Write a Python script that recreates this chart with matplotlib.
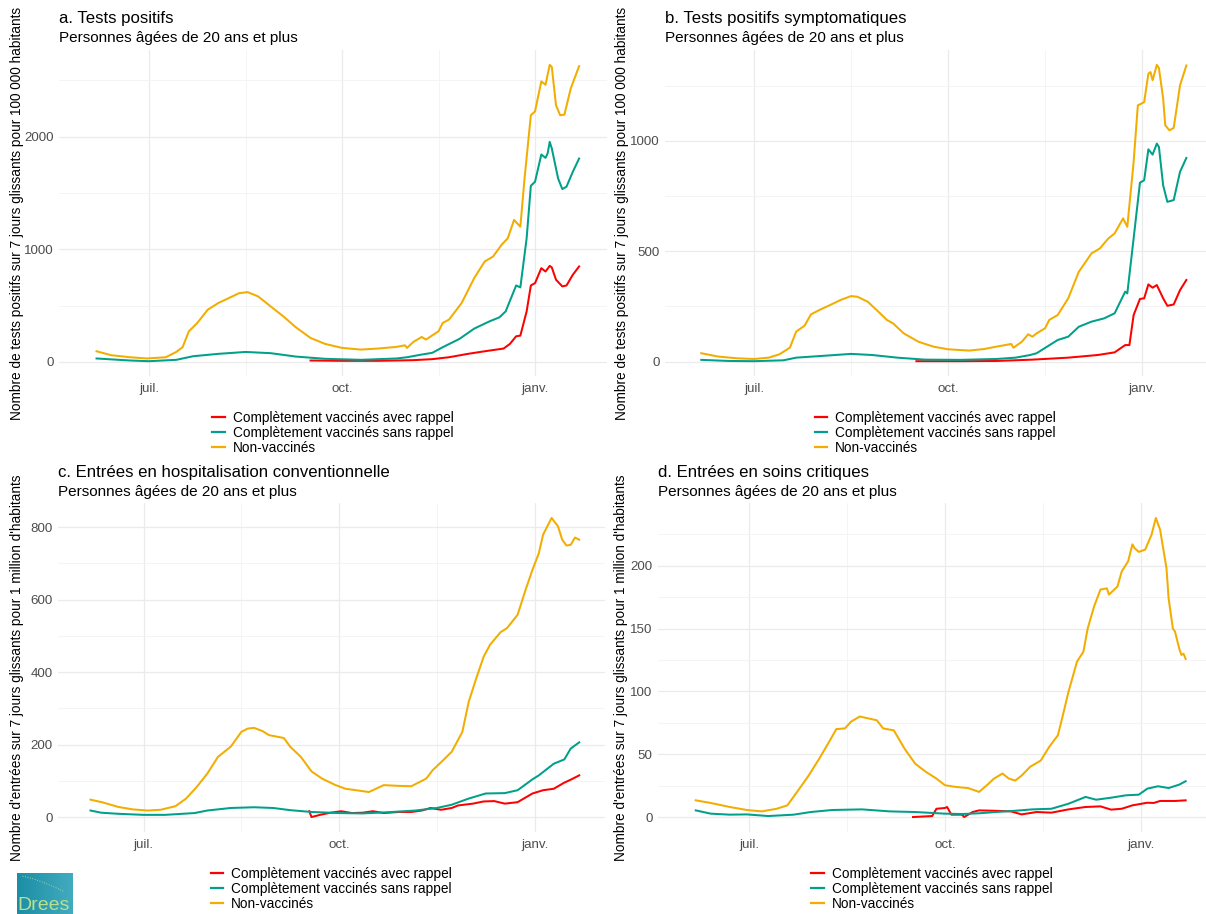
import numpy as np
import pandas as pd
import matplotlib
matplotlib.use("Agg")
import matplotlib.pyplot as plt
from matplotlib.lines import Line2D
from matplotlib.colors import LinearSegmentedColormap

plt.rcParams["font.family"] = ["Liberation Sans", "DejaVu Sans"]

# Days are counted from 1 July 2021; values are 7-day rolling rates.
BASE = pd.Timestamp("2021-07-01")

# a. Tests positifs (per 100 000)
a_rappel_days = [77, 92, 109, 126, 135, 143, 152, 160, 169, 172, 175, 177, 180, 182, 184, 187, 189, 191, 192, 194, 197, 199, 202, 205]
a_rappel = [12, 9, 9, 15, 24, 41, 71, 94, 118, 159, 227, 233, 448, 678, 699, 832, 802, 852, 838, 729, 670, 678, 773, 847]
a_sans_days = [-25, -9, 0, 13, 21, 33, 46, 58, 70, 84, 101, 118, 123, 130, 135, 140, 148, 155, 162, 167,
               170, 175, 177, 180, 182, 184, 187, 189, 190, 191, 192, 195, 197, 199, 202, 205]
a_sans = [30, 12, 6, 18, 50, 71, 88, 77, 47, 27, 18, 30, 41, 65, 80, 130, 204, 295, 357, 395,
          448, 678, 661, 1097, 1563, 1599, 1841, 1811, 1850, 1953, 1894, 1628, 1534, 1555, 1687, 1805]
a_nonvac_days = [-25, -18, -9, -1, 8, 13, 16, 19, 23, 28, 33, 38, 43, 47, 52, 57, 64, 70, 77, 84,
                 92, 101, 109, 118, 122, 123, 126, 130, 132, 138, 140, 143, 149, 155, 160, 164, 168, 171, 174, 177,
                 179, 182, 184, 187, 189, 191, 192, 194, 196, 198, 201, 205]
a_nonvac = [94, 59, 41, 30, 41, 88, 130, 271, 345, 463, 522, 566, 610, 619, 581, 507, 404, 307, 212, 159,
            124, 109, 118, 133, 147, 124, 177, 221, 198, 271, 345, 375, 522, 743, 891, 935, 1038, 1097, 1260, 1200,
            1628, 2189, 2224, 2490, 2460, 2637, 2617, 2277, 2189, 2195, 2425, 2625]

# b. Tests positifs symptomatiques (per 100 000)
b_rappel_days = [77, 98, 115, 132, 149, 163, 171, 176, 178, 180, 183, 185, 187, 189, 191, 194, 196, 199, 202, 205]
b_rappel = [2, 2, 3, 9, 18, 30, 42, 75, 75, 211, 284, 287, 350, 335, 347, 287, 253, 259, 324, 370]
b_sans_days = [-25, -12, 0, 14, 20, 34, 46, 56, 68, 81, 98, 115, 124, 131, 134, 139, 144, 149, 154, 160,
               166, 171, 176, 177, 180, 183, 185, 187, 189, 191, 192, 194, 196, 199, 202, 205]
b_sans = [8, 3, 2, 6, 18, 27, 35, 30, 18, 9, 8, 12, 18, 30, 38, 68, 98, 113, 158, 181,
          196, 219, 317, 309, 558, 811, 822, 962, 938, 988, 973, 799, 724, 732, 860, 923]
b_nonvac_days = [-25, -17, -8, 0, 7, 12, 17, 20, 24, 27, 31, 36, 41, 46, 49, 54, 59, 63, 66, 71,
                 78, 85, 92, 102, 109, 115, 122, 123, 127, 130, 132, 134, 138, 140, 144, 149, 154, 160, 164, 168,
                 171, 175, 177, 180, 182, 185, 187, 188, 189, 191, 192, 194, 195, 197, 199, 202, 205]
b_nonvac = [38, 23, 15, 12, 18, 33, 63, 136, 163, 214, 234, 256, 279, 297, 294, 271, 226, 189, 173, 128,
            90, 68, 56, 50, 57, 68, 80, 63, 90, 124, 113, 128, 151, 189, 211, 287, 407, 490, 513, 558,
            581, 649, 611, 905, 1161, 1176, 1305, 1312, 1275, 1345, 1330, 1192, 1071, 1048, 1059, 1252, 1342]

# c. Entrées en hospitalisation conventionnelle (per million)
c_rappel_days = [78, 79, 83, 88, 93, 98, 103, 108, 113, 120, 126, 131, 135, 140, 145, 148, 155, 160, 165, 170,
                 176, 183, 188, 193, 198, 201, 205]
c_rappel = [16, 0, 6, 12, 16, 11, 12, 16, 11, 14, 14, 18, 25, 20, 25, 32, 37, 43, 44, 37,
            41, 65, 74, 78, 95, 103, 115]
c_sans_days = [-25, -20, -12, 0, 10, 24, 30, 41, 52, 61, 69, 79, 92, 103, 114, 128, 138, 145, 153, 161,
               170, 176, 183, 186, 193, 198, 201, 205]
c_sans = [18, 12, 9, 6, 6, 11, 18, 25, 27, 25, 19, 14, 11, 10, 13, 18, 25, 34, 51, 65,
          66, 74, 104, 115, 147, 159, 189, 206]
c_nonvac_days = [-25, -19, -12, -5, 2, 8, 15, 20, 25, 30, 35, 41, 46, 49, 52, 56, 59, 66, 69, 74,
                 79, 84, 90, 95, 100, 106, 113, 120, 126, 130, 133, 136, 141, 145, 150, 153, 156, 160, 163, 168,
                 171, 176, 180, 183, 186, 188, 192, 195, 197, 199, 201, 203, 205]
c_nonvac = [48, 40, 28, 21, 18, 20, 30, 51, 83, 120, 166, 194, 235, 244, 246, 237, 226, 218, 194, 166,
            126, 106, 89, 78, 74, 69, 88, 86, 85, 97, 106, 129, 157, 180, 235, 318, 373, 442, 475, 510,
            521, 558, 631, 682, 728, 779, 825, 802, 765, 749, 751, 771, 765]

# d. Entrées en soins critiques (per million)
d_rappel_days = [77, 86, 88, 92, 93, 95, 100, 101, 105, 108, 115, 123, 128, 135, 142, 150, 158, 165, 170, 175,
                 180, 187, 190, 193, 200, 205]
d_rappel = [0, 0.8, 6.6, 7.2, 8, 1.9, 1.9, 0, 4, 5.3, 5, 4.5, 2.1, 4, 3.5, 6.1, 8, 8.5, 5.9, 6.6,
            9.3, 11.4, 11.2, 12.8, 12.8, 13.3]
d_sans_days = [-25, -18, -9, -1, 9, 21, 29, 39, 53, 66, 78, 92, 100, 108, 116, 125, 133, 142, 150, 158,
               163, 170, 177, 183, 187, 192, 197, 202, 205]
d_sans = [5.3, 2.7, 1.9, 2.1, 0.8, 1.9, 4, 5.6, 6.1, 4.5, 4, 2.7, 2.4, 3, 4, 5, 6.1, 6.6, 10.6, 16,
          13.8, 15.4, 17.3, 17.8, 22.6, 24.5, 23.1, 25.8, 28.5]
d_nonvac_days = [-25, -18, -9, -1, 6, 13, 18, 23, 28, 33, 38, 41, 45, 48, 52, 56, 60, 63, 68, 73,
                 78, 83, 88, 92, 97, 103, 108, 112, 115, 119, 122, 125, 128, 132, 137, 141, 145, 147, 150, 154,
                 157, 159, 162, 165, 168, 169, 173, 175, 178, 180, 181, 183, 186, 189, 191, 193, 196, 197, 199, 200,
                 202, 203, 204, 205]
d_nonvac = [13.3, 11.2, 8, 5.6, 4.5, 6.6, 9.3, 21, 33, 46.5, 61, 70, 70.5, 76, 80, 78.5, 77, 70.5, 69, 54.5,
            42.5, 36, 30.6, 25.3, 24, 23, 20, 25.8, 30.6, 34.6, 30.6, 29, 33, 40, 45, 56, 65, 78.5, 99.7, 123.7,
            131.6, 150, 167.5, 181, 182, 177, 183.5, 195.5, 203.5, 217, 214, 211, 212.8, 224.7, 238, 228.7, 198, 174, 150, 147.6,
            134, 129, 130, 125.8]

SERIES_LABELS = ["Complètement vaccinés avec rappel",
                 "Complètement vaccinés sans rappel",
                 "Non-vaccinés"]
SERIES_COLORS = ["#FF0000", "#00A08A", "#F2AD00"]

MONTH_TICKS = ["2021-07-01", "2021-10-01", "2022-01-01"]
MONTH_LABELS = ["juil.", "oct.", "janv."]

SUBTITLE = "Personnes âgées de 20 ans et plus"
YLAB_TESTS = "Nombre de tests positifs sur 7 jours glissants pour 100 000 habitants"
YLAB_HOSP = "Nombre d'entrées sur 7 jours glissants pour 1 million d'habitants"

panels = [
    dict(title="a. Tests positifs", ylabel=YLAB_TESTS,
         series=[(a_rappel_days, a_rappel), (a_sans_days, a_sans), (a_nonvac_days, a_nonvac)],
         yticks=[0, 1000, 2000], ystep=500,
         box=(59, 50, 607, 376), jul_px=149, px_per_day=2.098, ylab_x=17, title_y=18),
    dict(title="b. Tests positifs symptomatiques", ylabel=YLAB_TESTS,
         series=[(b_rappel_days, b_rappel), (b_sans_days, b_sans), (b_nonvac_days, b_nonvac)],
         yticks=[0, 500, 1000], ystep=250,
         box=(665, 50, 1206, 376), jul_px=754, px_per_day=2.109, ylab_x=622, title_y=18),
    dict(title="c. Entrées en hospitalisation conventionnelle", ylabel=YLAB_HOSP,
         series=[(c_rappel_days, c_rappel), (c_sans_days, c_sans), (c_nonvac_days, c_nonvac)],
         yticks=[0, 200, 400, 600, 800], ystep=100,
         box=(58, 503, 605, 832), jul_px=143.6, px_per_day=2.125, ylab_x=17, title_y=472),
    dict(title="d. Entrées en soins critiques", ylabel=YLAB_HOSP,
         series=[(d_rappel_days, d_rappel), (d_sans_days, d_sans), (d_nonvac_days, d_nonvac)],
         yticks=[0, 50, 100, 150, 200], ystep=25,
         box=(658, 503, 1206, 832), jul_px=749, px_per_day=2.13, ylab_x=621, title_y=472),
]

W, H = 1206, 914
fig = plt.figure(figsize=(W / 100, H / 100), dpi=100)
fig.patch.set_facecolor("white")


def to_dates(days):
    return BASE + pd.to_timedelta(np.asarray(days, dtype=float), unit="D")


major = pd.to_datetime(MONTH_TICKS)
minor = [major[i] + (major[i + 1] - major[i]) / 2 for i in range(len(major) - 1)]

for p in panels:
    l, t, r, b = p["box"]
    ax = fig.add_axes([l / W, 1 - b / H, (r - l) / W, (b - t) / H])
    for s in ax.spines.values():
        s.set_visible(False)

    for (days, vals), color in zip(p["series"], SERIES_COLORS):
        ax.plot(to_dates(days), vals, color=color, lw=1.45, solid_joinstyle="round")

    left_day = (l - p["jul_px"]) / p["px_per_day"]
    right_day = (r - p["jul_px"]) / p["px_per_day"]
    ax.set_xlim(BASE + pd.Timedelta(days=left_day), BASE + pd.Timedelta(days=right_day))

    allv = np.concatenate([np.asarray(v, float) for _, v in p["series"]])
    lo, hi = allv.min(), allv.max()
    pad = 0.05 * (hi - lo)

    ax.set_xticks(major)
    ax.set_xticklabels(MONTH_LABELS)
    ax.set_xticks(minor, minor=True)
    ax.set_yticks(p["yticks"])
    ax.set_yticklabels([str(v) for v in p["yticks"]])
    ax.set_yticks([v + p["ystep"] for v in p["yticks"]], minor=True)
    ax.set_ylim(lo - pad, hi + pad)

    ax.grid(which="major", color="#EBEBEB", lw=0.9)
    ax.grid(which="minor", color="#F3F3F3", lw=0.6)
    ax.set_axisbelow(True)
    ax.tick_params(which="both", length=0)
    ax.tick_params(axis="x", labelsize=9.6, labelcolor="#4D4D4D", pad=5)
    ax.tick_params(axis="y", labelsize=9.6, labelcolor="#4D4D4D", pad=4)

    fig.text(l / W, 1 - p["title_y"] / H, p["title"], fontsize=12.1, color="black",
             ha="left", va="center")
    fig.text(l / W, 1 - (p["title_y"] + 20) / H, SUBTITLE, fontsize=11, color="black",
             ha="left", va="center")
    fig.text(p["ylab_x"] / W, 1 - ((t + b) / 2) / H, p["ylabel"], rotation=90,
             fontsize=9.8, color="black", ha="center", va="center")

    handles = [Line2D([], [], color=c, lw=1.6) for c in SERIES_COLORS]
    fig.legend(handles, SERIES_LABELS, loc="upper center",
               bbox_to_anchor=(((l + r) / 2) / W, 1 - (b + 35) / H),
               bbox_transform=fig.transFigure, frameon=False, fontsize=9.8,
               handlelength=0.9, handletextpad=0.6, labelspacing=0.08,
               borderpad=0, borderaxespad=0)

# Drees logo in the lower-left corner
lax = fig.add_axes([17 / W, 1 - 914 / H, 56 / W, 41 / H])
grad = np.linspace(0, 1, 64)[None, :] * np.ones((32, 1))
cmap = LinearSegmentedColormap.from_list("logo", ["#1B8EA6", "#43ABBE"])
lax.imshow(grad, cmap=cmap, aspect="auto", extent=[0, 1, 0, 1])
tt = np.linspace(0.1, 0.85, 30)
lax.plot(tt, 0.92 - 0.55 * (tt - 0.1) ** 1.3, color="#C9E7A0", lw=0.6, ls=(0, (1, 2)))
lax.text(0.48, 0.2, "Drees", color="#B8E08E", fontsize=14, ha="center", va="center",
         family=["Liberation Sans", "DejaVu Sans"])
lax.set_xlim(0, 1)
lax.set_ylim(0, 1)
lax.axis("off")

fig.savefig("out.png", dpi=100)
